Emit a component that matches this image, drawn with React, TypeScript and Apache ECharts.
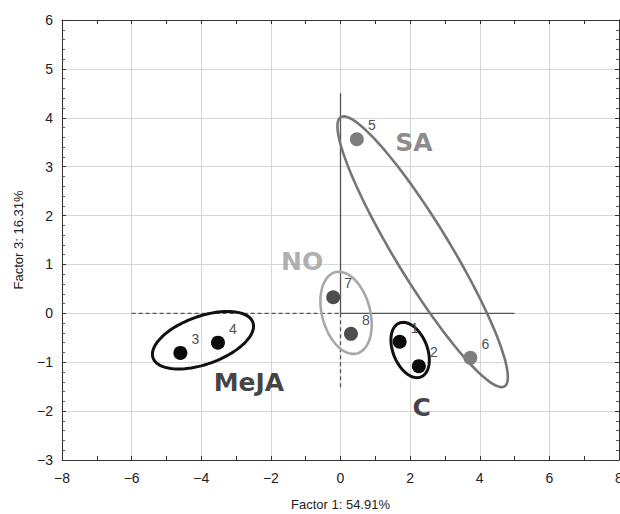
import React, { useEffect, useRef } from "react";
import * as echarts from "echarts";

// Sample scores (Factor 1, Factor 3)
const sampleIds = ["1", "2", "3", "4", "5", "6", "7", "8"];
const factor1 = [1.7, 2.25, -4.6, -3.52, 0.47, 3.73, -0.21, 0.3];
const factor3 = [-0.58, -1.08, -0.81, -0.6, 3.56, -0.91, 0.33, -0.42];
const sampleGroup = ["C", "C", "MeJA", "MeJA", "SA", "SA", "NO", "NO"];

// Group ellipses (center + conjugate semi-axes, data units)
const groupNames = ["MeJA", "C", "NO", "SA"];
const ellipseCx = [-3.95, 2.0, 0.16, 2.36];
const ellipseCy = [-0.55, -0.75, 0.01, 1.26];
const ellipseUx = [1.434, 0.313, 0.313, 2.353];
const ellipseUy = [0.364, -0.55, -0.83, -2.754];
const ellipseVx = [0.231, 0.454, 0.667, 0.675];
const ellipseVy = [-0.462, 0.131, 0.127, 0.292];

// Group label anchor positions (data units)
const labelX = [-2.63, 2.33, -1.1, 2.11];
const labelY = [-1.42, -1.92, 1.07, 3.49];

// Axis reference lines
const zeroSolidV = [[0, 0], [0, 4.5]];
const zeroDashedV = [[0, 0], [0, -1.55]];
const zeroSolidH = [[0, 0], [5, 0]];
const zeroDashedH = [[-6, 0], [0, 0]];

const groupColor: Record<string, string> = {
  MeJA: "#111111",
  C: "#111111",
  NO: "#a8a8a8",
  SA: "#767676",
};
const pointColor: Record<string, string> = {
  MeJA: "#0a0a0a",
  C: "#0a0a0a",
  NO: "#4e4e4e",
  SA: "#7e7e7e",
};
const ellipseWidth: Record<string, number> = { MeJA: 3, C: 3, NO: 2.6, SA: 2.6 };
const textColor: Record<string, string> = {
  MeJA: "#111111",
  C: "#111111",
  NO: "#9a9a9a",
  SA: "#6e6e6e",
};

const fmt = (v: number) => String(v).replace("-", "\u2212");

export default function App() {
  const ref = useRef<HTMLDivElement>(null);
  useEffect(() => {
    if (!ref.current) return;
    const chart = echarts.init(ref.current, undefined, { renderer: "svg" });
    const axisLabelStyle = {
      color: "#222",
      fontSize: 14,
      fontFamily: "Liberation Sans",
    };
    const lineBase = {
      type: "line",
      symbol: "none",
      silent: true,
      z: 1,
      xAxisIndex: 0,
      yAxisIndex: 0,
    };
    const option: any = {
      animation: false,
      backgroundColor: "#ffffff",
      grid: {
        left: 62,
        right: 1,
        top: 20,
        bottom: 54,
        containLabel: false,
        outerBoundsMode: "none",
      },
      xAxis: [
        {
          type: "value",
          min: -8,
          max: 8,
          interval: 2,
          name: "Factor 1: 54.91%",
          nameLocation: "middle",
          nameGap: 38,
          nameTextStyle: { color: "#222", fontSize: 13, fontFamily: "Liberation Sans" },
          axisLine: { show: true, onZero: false, lineStyle: { color: "#333", width: 1 } },
          axisTick: { show: true, inside: true, length: 4, lineStyle: { color: "#333" } },
          minorTick: { show: true, splitNumber: 2, length: 4, lineStyle: { color: "#333" } },
          axisLabel: { ...axisLabelStyle, margin: 11, formatter: fmt },
          splitLine: { show: true, lineStyle: { color: "#d6d6d6", width: 1 } },
        },
        {
          type: "value",
          position: "top",
          min: -8,
          max: 8,
          interval: 2,
          axisLine: { show: true, onZero: false, lineStyle: { color: "#333", width: 1 } },
          axisTick: { show: true, inside: true, length: 4, lineStyle: { color: "#333" } },
          minorTick: { show: true, splitNumber: 2, length: 4, lineStyle: { color: "#333" } },
          axisLabel: { show: false },
          splitLine: { show: false },
        },
      ],
      yAxis: [
        {
          type: "value",
          min: -3,
          max: 6,
          interval: 1,
          name: "Factor 3: 16.31%",
          nameLocation: "middle",
          nameGap: 37,
          nameTextStyle: { color: "#222", fontSize: 13, fontFamily: "Liberation Sans" },
          axisLine: { show: true, onZero: false, lineStyle: { color: "#333", width: 1 } },
          axisTick: { show: true, inside: true, length: 4, lineStyle: { color: "#333" } },
          minorTick: { show: true, splitNumber: 5, length: 3, lineStyle: { color: "#555" } },
          axisLabel: { ...axisLabelStyle, margin: 9, formatter: fmt },
          splitLine: { show: true, lineStyle: { color: "#d6d6d6", width: 1 } },
        },
        {
          type: "value",
          position: "right",
          min: -3,
          max: 6,
          interval: 1,
          axisLine: { show: true, onZero: false, lineStyle: { color: "#333", width: 1 } },
          axisTick: { show: true, inside: true, length: 4, lineStyle: { color: "#333" } },
          minorTick: { show: true, splitNumber: 5, length: 3, lineStyle: { color: "#555" } },
          axisLabel: { show: false },
          splitLine: { show: false },
        },
      ],
      series: [
        { ...lineBase, data: zeroSolidV, lineStyle: { color: "#555", width: 1.3 } },
        { ...lineBase, data: zeroDashedV, lineStyle: { color: "#555", width: 1.3, type: [4, 3] } },
        { ...lineBase, data: zeroSolidH, lineStyle: { color: "#555", width: 1.3 } },
        { ...lineBase, data: zeroDashedH, lineStyle: { color: "#555", width: 1.3, type: [4, 3] } },
        {
          type: "custom",
          silent: true,
          z: 3,
          clip: false,
          encode: { x: 0, y: 1 },
          data: groupNames.map((g, i) => [
            ellipseCx[i],
            ellipseCy[i],
            ellipseUx[i],
            ellipseUy[i],
            ellipseVx[i],
            ellipseVy[i],
          ]),
          renderItem: (params: any, api: any) => {
            const g = groupNames[params.dataIndex];
            const cx = api.value(0);
            const cy = api.value(1);
            const ux = api.value(2);
            const uy = api.value(3);
            const vx = api.value(4);
            const vy = api.value(5);
            const pts: number[][] = [];
            const n = 96;
            for (let k = 0; k < n; k++) {
              const t = (2 * Math.PI * k) / n;
              pts.push(
                api.coord([
                  cx + ux * Math.cos(t) + vx * Math.sin(t),
                  cy + uy * Math.cos(t) + vy * Math.sin(t),
                ])
              );
            }
            return {
              type: "polygon",
              shape: { points: pts },
              style: { fill: "none", stroke: groupColor[g], lineWidth: ellipseWidth[g] },
            };
          },
        },
        {
          type: "scatter",
          z: 4,
          symbolSize: 14,
          itemStyle: { opacity: 1 },
          data: sampleIds.map((id, i) => ({
            value: [factor1[i], factor3[i]],
            name: id,
            itemStyle: { color: pointColor[sampleGroup[i]], opacity: 1 },
          })),
          label: {
            show: true,
            position: "inside",
            offset: [15, -14],
            formatter: (p: any) => p.name,
            color: "#505050",
            fontSize: 14,
            fontFamily: "Liberation Sans",
          },
        },
        {
          type: "scatter",
          z: 5,
          silent: true,
          symbolSize: 1,
          itemStyle: { color: "rgba(0,0,0,0)" },
          data: groupNames.map((g, i) => ({
            value: [labelX[i], labelY[i]],
            name: g,
            label: { color: textColor[g] },
          })),
          label: {
            show: true,
            position: "inside",
            formatter: (p: any) => p.name,
            fontSize: 25,
            fontWeight: "bold",
            fontFamily: "DejaVu Sans",
          },
        },
      ],
    };
    chart.setOption(option);
    return () => chart.dispose();
  }, []);
  return (
    <div
      ref={ref}
      style={{ position: "fixed", left: 0, top: 0, width: 620, height: 514 }}
    />
  );
}
